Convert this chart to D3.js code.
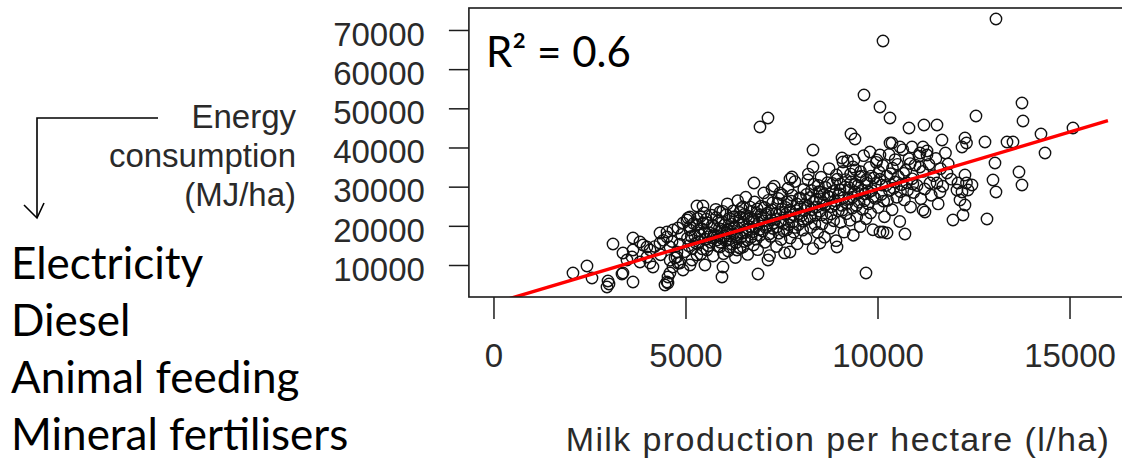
<!DOCTYPE html>
<html>
<head>
<meta charset="utf-8">
<script src="https://cdn.jsdelivr.net/npm/d3@7/dist/d3.min.js"></script>
<style>
  html, body { margin: 0; padding: 0; background: #fff; }
  svg { display: block; }
</style>
</head>
<body>
<svg id="chart" width="1122" height="462"></svg>
<script>
// ---------------- data ----------------
const xTicks = [0, 5000, 10000, 15000];
const yTicks = [10000, 20000, 30000, 40000, 50000, 60000, 70000];
const xTitle = "Milk production per hectare (l/ha)";
const yTitleLines = ["Energy", "consumption", "(MJ/ha)"];
const energySources = ["Electricity", "Diesel", "Animal feeding", "Mineral fertilisers"];
const r2Label = "R\u00B2 = 0.6";
// fitted regression line endpoints (milk, energy)
const fitX = [0, 16000];
const fitY = [200, 46840];

// farm observations: [milk production l/ha, energy consumption MJ/ha]
const farmsSparse = [
  [13085,72800],[10143,67190],[9648,53400],[10064,50340],[10325,47530],[13762,51360],[13788,46760],
  [12564,48040],[15090,44980],[14257,43440],[14362,38590],[9309,43440],[9414,42170],[8320,39360],
  [9075,37320],[9388,36810],[9804,38850],[9986,36810],[10325,41150],[10820,44980],[11210,45740],
  [11549,45740],[11679,41910],[12278,42420],[12317,41150],[12200,40130],[12799,41400],[13372,41400],
  [13528,41400],[10898,40130],[11184,40130],[11106,38590],[11288,38080],[10064,38080],[6940,45230],
  [7148,47530],[9101,36300],[8320,35020],[7721,31960],[7773,32470],[6783,30930],[8190,31700],
  [7252,29400],[8502,28640],[9023,29150],[9362,35020],[9544,32470],[10064,18420],[10143,18420],
  [7148,11280],[6888,7702],[9700,7958],[7721,13320],[8502,15620],[8945,14600],[10585,40130],
  [10378,41150],[13059,36040],[13684,33740],[13762,30420],[13007,31700],[13085,28640],[12317,30930],
  [12200,28640],[12148,26590],[12278,25320],[11965,21490],[12226,22770],[12851,21740],[11549,30930],
  [11627,28640],[11184,24040],[11236,23530],[10715,17910],[10247,18170],[11367,30930],[11106,35020],
  [11809,33490],[12069,29150],[12095,30930],[12278,32980],[12460,30420],[12356,29150],[7460,28380]
];
const farmsLow = [
  [5299,25060],[5455,25060],[5898,23530],[3112,15360],[2070,7958],[2435,9745],[2565,6681],
  [2982,5915],[2956,4383],[3008,5150],[3633,5660],[3372,7958],[4518,5660],[4466,4894],[4544,6936],
  [5507,10000],[5950,6936],[5976,9489],[3633,16890],[3815,15870],[3997,14600],[4336,18170],
  [4518,18420],[4674,18940],[4804,19450],[5039,21490],[5117,22250],[4778,12040],[4856,10510],
  [4674,9489],[3372,13060],[3476,11280],[3997,12040],[4153,9489],[5117,10000],[5716,16890],
  [6080,18170],[6419,22250],[6497,24810],[6341,13830],[6497,14600],[3893,15110],[4075,13830],
  [3633,13830],[3607,12040],[3815,10770],[4075,10510],[4336,15620],[4518,17150],[4596,14600],
  [4778,13320],[4935,20720],[5065,22000],[5117,18940],[5299,20210],[5455,20720],[5377,17660],
  [4804,10510],[4726,11790],[4935,8724],[5169,11280],[5299,12550],[5559,13830],[5820,16380],
  [5898,14600],[6080,18940],[6237,22250],[6158,14600],[6341,17150],[3346,7702],[4544,5405],
  [4596,7958],[4200,14700],[4350,12600],[4420,16300],[4600,11200],[4650,16000],[4850,15300],
  [4900,17800],[4980,13400]
];
const farmsCore = [
  [5050,16800],[5120,19800],[5180,14200],[5240,17500],[5310,21900],[5350,15900],[5400,12800],
  [5420,19300],[5480,23300],[5520,16600],[5560,20800],[5600,14900],[5630,18200],[5680,22700],
  [5720,12300],[5750,19800],[5790,24200],[5830,17400],[5860,21300],[5900,15800],[5940,19100],
  [5970,23700],[5990,12900],
  [6020,20300],[6050,16200],[6090,25600],[6110,13600],[6140,21900],[6180,18600],[6210,15300],
  [6240,23800],[6270,19700],[6300,11900],[6330,17700],[6360,26400],[6390,21200],[6420,14300],
  [6450,24400],[6480,18100],[6510,20900],[6540,16000],[6570,27300],[6600,22600],[6620,12700],
  [6650,19200],[6680,24800],[6710,17100],[6740,21600],[6770,15100],[6800,26100],[6830,19800],
  [6850,23200],[6880,13900],[6910,20700],[6940,17600],[6970,25000],[6990,22000],
  [7010,18700],[7040,28400],[7070,15800],[7100,22900],[7130,20100],[7160,26500],[7190,12400],
  [7220,17300],[7250,24100],[7280,19300],[7310,30100],[7340,21700],[7370,14700],[7400,25700],
  [7430,18100],[7460,23400],[7490,16500],[7520,27900],[7550,20600],[7580,13100],[7610,24700],
  [7640,19000],[7670,29600],[7700,22200],[7730,16900],[7760,26300],[7790,21000],[7820,18400],
  [7850,31300],[7880,23900],[7910,15400],[7940,20300],[7970,27100],[7990,24800],
  [8020,22600],[8050,18900],[8080,29300],[8110,25400],[8140,16700],[8170,21700],[8200,33200],
  [8230,27200],[8260,19600],[8290,24100],[8320,14200],[8350,30600],[8380,22700],[8410,26800],
  [8440,18300],[8470,28700],[8500,23700],[8530,32400],[8560,20500],[8590,25900],[8620,17100],
  [8650,29800],[8680,22100],[8710,27600],[8740,34600],[8770,19400],[8800,24900],[8830,30800],
  [8860,21300],[8890,26400],[8920,16200],[8950,31900],[8980,23800],
  [9010,28200],[9040,20900],[9070,25200],[9100,33900],[9130,18400],[9160,29900],[9190,23100],
  [9220,36600],[9250,26800],[9280,21400],[9310,31200],[9340,24500],[9370,17600],[9400,28700],
  [9430,34300],[9460,22400],[9490,30300],[9520,26000],[9550,19800],[9580,32700],[9610,24200],
  [9640,37900],[9670,28100],[9700,21800],[9730,30900],[9760,25600],[9790,34900],[9820,23300],
  [9850,29000],[9880,19000],[9910,32200],[9940,27000],[9970,36200],
  [10020,24700],[10060,31900],[10100,28000],[10140,35400],[10180,22300],[10220,30300],[10260,26500],
  [10300,38200],[10340,33300],[10380,24100],[10420,29600],[10460,36900],[10500,27300],[10540,32600],
  [10580,21100],[10620,30500],[10660,39400],[10700,26600],[10740,34200],[10780,29100],[10820,37100],
  [10860,24800],[10900,32000],[10940,28500],[10980,35500],
  [11030,30300],[11080,37800],[11130,26900],[11180,33900],[11230,29400],[11290,39100],[11340,35700],
  [11400,27800],[11460,32800],[11520,37200],[11580,25600],[11640,34600],[11700,30100],[11770,38600],
  [11840,35800],[11920,31900]
];
const farmsDense = [
  [5080,14900],[5150,17300],[5210,20600],[5270,15600],[5330,18800],[5390,22400],[5440,14100],
  [5500,18500],[5540,21700],[5590,17200],[5650,15800],[5700,20200],[5740,17800],[5800,22100],
  [5850,14800],[5880,19300],[5930,16900],[5960,21000],
  [6010,17400],[6060,22800],[6100,19000],[6160,16700],[6200,20500],[6250,17900],[6290,22300],
  [6320,15700],[6370,19400],[6410,23400],[6440,17000],[6490,20300],[6530,22900],[6560,18300],
  [6610,16400],[6640,21700],[6690,19700],[6720,23700],[6760,18500],[6790,21300],[6840,16600],
  [6870,24300],[6920,19000],[6960,22800],
  [7020,21300],[7060,24700],[7090,19600],[7140,23300],[7180,17900],[7230,21500],[7270,25900],
  [7300,20700],[7350,23000],[7390,19700],[7420,27000],[7470,21100],[7510,24300],[7560,18700],
  [7600,22900],[7650,26100],[7690,20300],[7720,24000],[7780,27800],[7810,22800],[7860,19600],
  [7900,25600],[7950,23000],
  [8000,27000],[8060,21200],[8100,23900],[8150,28000],[8190,25000],[8240,22200],[8280,29000],
  [8330,26000],[8370,20400],[8420,24800],[8460,30300],[8510,26900],[8550,22800],[8600,28000],
  [8640,25200],[8700,31000],[8750,27300],[8790,23000],[8840,28800],[8880,25500],[8930,33000],
  [8970,27700],
  [9030,30700],[9080,24000],[9120,27200],[9170,31800],[9210,25800],[9260,29700],[9300,33200],
  [9350,27300],[9410,30700],[9450,25200],[9500,28300],[9560,33800],[9600,29100],[9660,26400],
  [9710,31800],[9770,28600],[9830,32700],[9890,27500],[9950,30800],
  [10040,33800],[10110,30400],[10160,26300],[10240,32700],[10310,29000],[10390,34700],[10450,31200],
  [10520,35700],[10600,28700],[10680,33400],[10760,31000],[10850,35900],[10920,30700]
];

// ---------------- layout ----------------
const svg = d3.select("#chart");
const plot = { left: 468.9, right: 1132.5, top: 8, bottom: 297 };
const x = d3.scaleLinear().domain([-640, 16640]).range([plot.left, plot.right]);
const y = d3.scaleLinear().domain([1830, 75610]).range([plot.bottom, plot.top]);
const axisFont = "'Liberation Sans', Arial, sans-serif";
const calFont = "Lato, 'Open Sans', sans-serif";
const ink = "#1c1c1c";
const textInk = "#2a2a2a";

svg.append("defs").append("clipPath").attr("id", "clip")
  .append("rect").attr("x", plot.left).attr("y", plot.top)
  .attr("width", plot.right - plot.left).attr("height", plot.bottom - plot.top);

// points
const allFarms = farmsSparse.concat(farmsLow, farmsCore, farmsDense);
svg.append("g").selectAll("circle").data(allFarms).join("circle")
  .attr("cx", d => x(d[0])).attr("cy", d => y(d[1])).attr("r", 5.7)
  .attr("fill", "none").attr("stroke", "#111").attr("stroke-width", 1.4);

// regression line
svg.append("line").attr("clip-path", "url(#clip)")
  .attr("x1", x(fitX[0])).attr("y1", y(fitY[0]))
  .attr("x2", x(fitX[1])).attr("y2", y(fitY[1]))
  .attr("stroke", "#ff0000").attr("stroke-width", 3.4);

// box
svg.append("rect").attr("x", plot.left).attr("y", plot.top)
  .attr("width", plot.right - plot.left).attr("height", plot.bottom - plot.top)
  .attr("fill", "none").attr("stroke", ink).attr("stroke-width", 1.6);

// y axis
const yAxis = svg.append("g").attr("transform", `translate(${plot.left},0)`)
  .call(d3.axisLeft(y).tickValues(yTicks).tickSize(20).tickPadding(24).tickFormat(d3.format("d")));
yAxis.select(".domain").remove();
yAxis.selectAll("line").attr("stroke", ink).attr("stroke-width", 1.5);
yAxis.selectAll("text").attr("font-family", axisFont).attr("font-size", 33)
  .attr("fill", textInk).attr("dy", "0.46em");

// x axis
const xAxis = svg.append("g").attr("transform", `translate(0,${plot.bottom})`)
  .call(d3.axisBottom(x).tickValues(xTicks).tickSize(22).tickPadding(25).tickFormat(d3.format("d")));
xAxis.select(".domain").remove();
xAxis.selectAll("line").attr("stroke", ink).attr("stroke-width", 1.5);
xAxis.selectAll("text").attr("font-family", axisFont).attr("font-size", 33).attr("fill", textInk);

// x title
svg.append("text").attr("x", 838).attr("y", 451).attr("text-anchor", "middle")
  .attr("font-family", axisFont).attr("font-size", 34).attr("letter-spacing", 1.4)
  .attr("fill", textInk).text(xTitle);

// y title
svg.append("g").selectAll("text").data(yTitleLines).join("text")
  .attr("x", 296).attr("y", (d, i) => 128 + i * 39).attr("text-anchor", "end")
  .attr("font-family", axisFont).attr("font-size", 33).attr("fill", textInk).text(d => d);

// arrow
svg.append("path").attr("d", "M158,118 H37 V217").attr("fill", "none")
  .attr("stroke", "#000").attr("stroke-width", 1.6);
svg.append("path").attr("d", "M24,205 L37,218 L44,203").attr("fill", "none")
  .attr("stroke", "#000").attr("stroke-width", 1.6);

// R² label
svg.append("text").attr("x", 486).attr("y", 67)
  .attr("font-family", calFont).attr("font-size", 42).attr("fill", "#000").text(r2Label);

// energy sources list
svg.append("g").selectAll("text").data(energySources).join("text")
  .attr("x", 11).attr("y", (d, i) => 279 + i * 57)
  .attr("font-family", calFont).attr("font-size", 44).attr("fill", "#000").text(d => d);
</script>
</body>
</html>
